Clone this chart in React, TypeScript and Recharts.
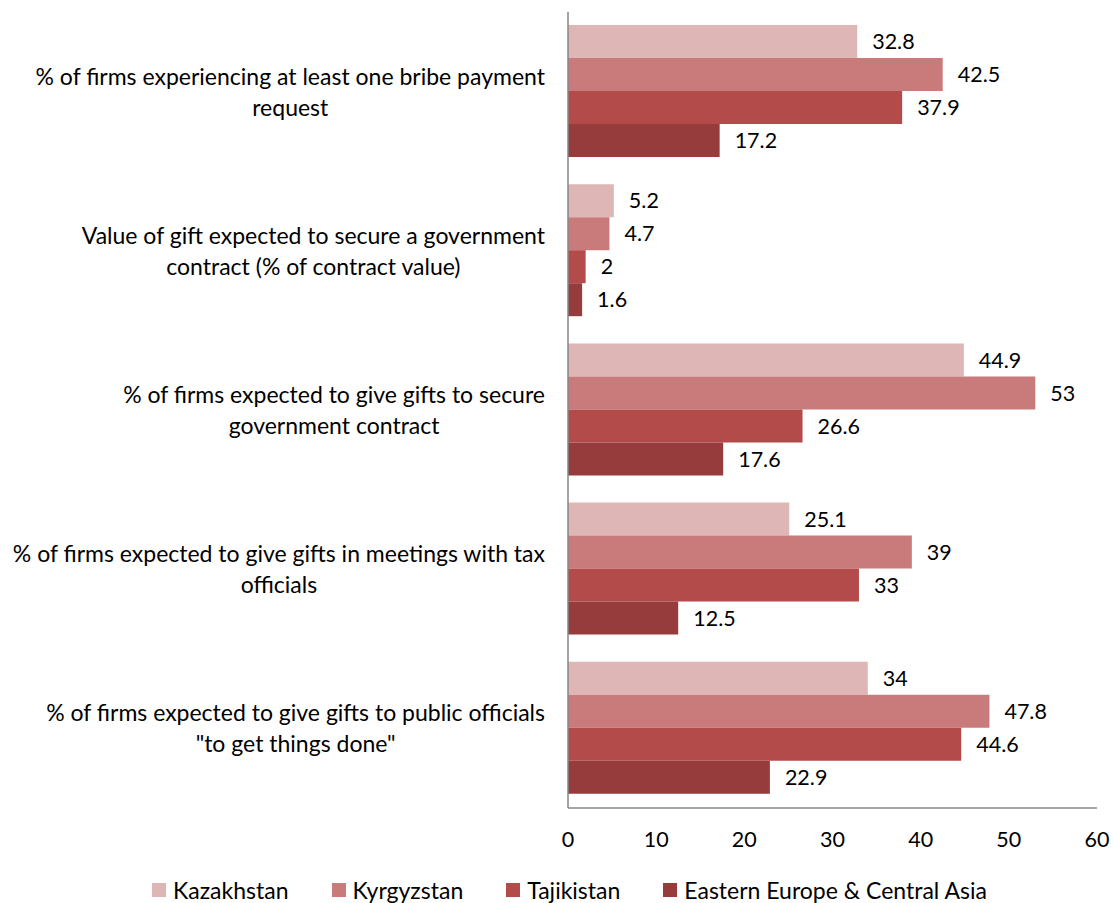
import React from "react";
import { BarChart, Bar, XAxis, YAxis, LabelList, Legend } from "recharts";

document.body.style.margin = "0";

const categories = [
  ["% of firms experiencing at least one bribe payment", "request"],
  ["Value of gift expected to secure a government", "contract (% of contract value)"],
  ["% of firms expected to give gifts to secure", "government contract"],
  ["% of firms expected to give gifts in meetings with tax", "officials"],
  ["% of firms expected to give gifts to public officials", "\"to get things done\""],
];
const kazakhstan = [32.8, 5.2, 44.9, 25.1, 34];
const kyrgyzstan = [42.5, 4.7, 53, 39, 47.8];
const tajikistan = [37.9, 2, 26.6, 33, 44.6];
const eca = [17.2, 1.6, 17.6, 12.5, 22.9];
const xTicks = [0, 10, 20, 30, 40, 50, 60];

const series = [
  { key: "kaz", name: "Kazakhstan", color: "#dfb6b6" },
  { key: "kgz", name: "Kyrgyzstan", color: "#c97b7b" },
  { key: "tjk", name: "Tajikistan", color: "#b34b4a" },
  { key: "eca", name: "Eastern Europe & Central Asia", color: "#963c3c" },
];

const data = categories.map((lines, i) => ({
  name: lines.join(" "),
  kaz: kazakhstan[i],
  kgz: kyrgyzstan[i],
  tjk: tajikistan[i],
  eca: eca[i],
}));

const FONT = "Lato, 'Open Sans', sans-serif";

// two-line category label, right aligned to the axis, lines centred on each other
const CategoryTick = (props: any) => {
  const { y, payload } = props;
  const lines = categories[payload.index] ?? [payload.value];
  return (
    <foreignObject x={0} y={y - 32} width={545} height={64}>
      <div
        style={{
          display: "flex",
          justifyContent: "flex-end",
          alignItems: "center",
          height: "100%",
        }}
      >
        <div
          style={{
            textAlign: "center",
            fontFamily: FONT,
            fontSize: 23,
            lineHeight: "31px",
            color: "#000",
            whiteSpace: "nowrap",
          }}
        >
          {lines.map((l, i) => (
            <div key={i}>{l}</div>
          ))}
        </div>
      </div>
    </foreignObject>
  );
};

const LegendContent = () => (
  <div
    style={{
      display: "flex",
      justifyContent: "center",
      gap: 43,
      paddingLeft: 42,
      paddingTop: 4,
      fontFamily: FONT,
      fontSize: 23,
      color: "#000",
    }}
  >
    {series.map((s) => (
      <div key={s.key} style={{ display: "flex", alignItems: "center", gap: 7 }}>
        <div style={{ width: 14, height: 14, background: s.color }} />
        <span>{s.name}</span>
      </div>
    ))}
  </div>
);

export default function App() {
  return (
    <div style={{ width: 1113, height: 903, background: "#fff" }}>
      <BarChart
        width={1113}
        height={903}
        data={data}
        layout="vertical"
        margin={{ top: 12, right: 16, bottom: 0, left: 0 }}
        barGap={0}
        barCategoryGap={13}
      >
        <XAxis
          type="number"
          domain={[0, 60]}
          ticks={xTicks}
          interval={0}
          tickLine={false}
          axisLine={{ stroke: "#868686", strokeWidth: 1.5 }}
          tickMargin={18}
          height={64}
          tick={{ fill: "#000", fontSize: 21.5, fontFamily: FONT }}
        />
        <YAxis
          type="category"
          dataKey="name"
          width={568}
          tickLine={false}
          axisLine={{ stroke: "#868686", strokeWidth: 1.5 }}
          tick={<CategoryTick />}
          interval={0}
        />
        <Legend verticalAlign="bottom" height={31} content={<LegendContent />} />
        {series.map((s) => (
          <Bar key={s.key} dataKey={s.key} name={s.name} fill={s.color} isAnimationActive={false}>
            <LabelList
              dataKey={s.key}
              position="right"
              offset={15}
              fill="#000"
              fontSize={21.5}
              fontFamily={FONT}
            />
          </Bar>
        ))}
      </BarChart>
    </div>
  );
}
